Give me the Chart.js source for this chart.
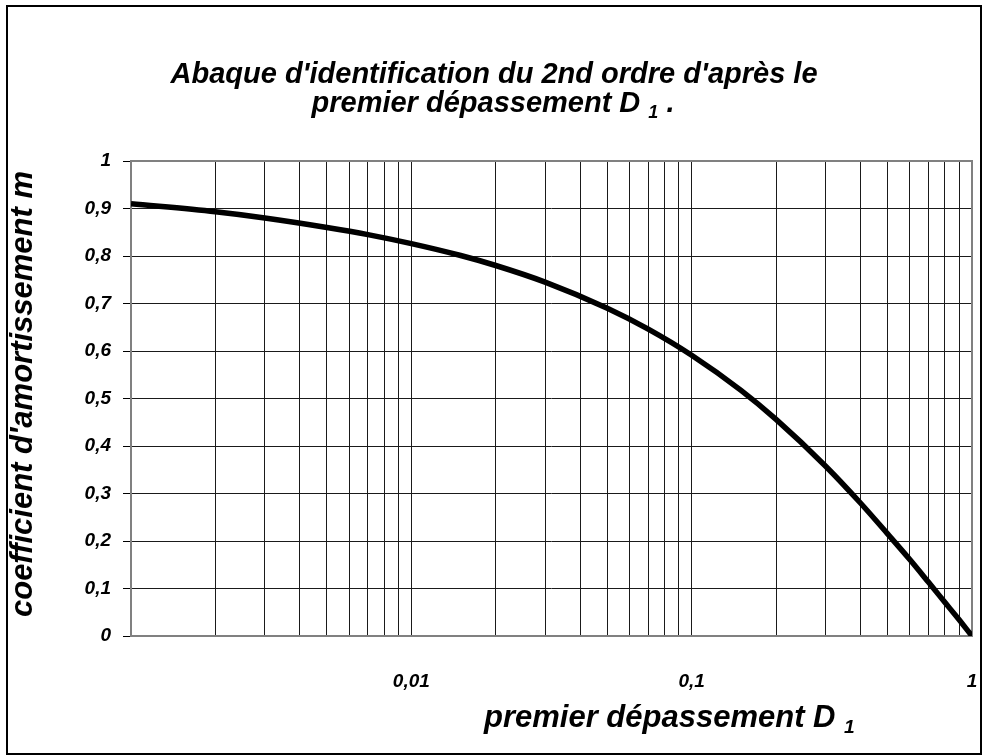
<!DOCTYPE html>
<html>
<head>
<meta charset="utf-8">
<script src="https://cdn.jsdelivr.net/npm/chart.js@4"></script>
<style>
  body { margin: 0; background: #fff; }
  #wrap { position: relative; width: 983px; height: 756px; }
  #frame {
    position: absolute; left: 6px; top: 5px; right: 1px; bottom: 1px;
    border: 2px solid #000; box-sizing: border-box; pointer-events: none;
  }
</style>
</head>
<body>
<div id="wrap">
  <canvas id="chart" width="983" height="756"></canvas>
  <div id="frame"></div>
</div>
<script>
// premier dépassement D1 (log axis) and coefficient d'amortissement m
const depassement = [0.001, 0.002, 0.003, 0.005, 0.007, 0.01, 0.015, 0.02, 0.03, 0.05,
  0.07, 0.1, 0.15, 0.2, 0.3, 0.4, 0.5, 0.6, 0.7, 0.8, 0.9, 1];
const amortissement = [0.910, 0.893, 0.880, 0.860, 0.845, 0.826, 0.801, 0.780, 0.745, 0.690,
  0.646, 0.591, 0.517, 0.456, 0.358, 0.280, 0.215, 0.161, 0.113, 0.071, 0.034, 0];

const xDecades = [0.001, 0.01, 0.1];
const xLabelValues = [0.01, 0.1, 1];
const yMin = 0, yMax = 1, yGridStep = 0.05, yLabelStep = 0.1;

const FONT = "'Liberation Sans', Arial, sans-serif";
const ctx = document.getElementById("chart");

const points = depassement.map((d, i) => ({ x: d, y: amortissement[i] }));

function frLabel(v) {
  return String(Math.round(v * 100) / 100).replace(".", ",");
}
function isLabelTick(v) {
  return Math.abs(v / yLabelStep - Math.round(v / yLabelStep)) < 1e-6;
}

// one line of text, with an optional subscript part; align "center" or "left"
function drawRich(c, parts, x0, cy, size, align) {
  const widths = parts.map(p => {
    c.font = "italic bold " + (p.sub ? size * 0.62 : size) + "px " + FONT;
    return c.measureText(p.t).width;
  });
  let x = align === "left" ? x0 : x0 - widths.reduce((a, b) => a + b, 0) / 2;
  parts.forEach((p, i) => {
    c.font = "italic bold " + (p.sub ? size * 0.62 : size) + "px " + FONT;
    c.fillText(p.t, x, cy + (p.sub ? size * 0.3 : 0));
    x += widths[i];
  });
}

const textPlugin = {
  id: "texts",
  beforeDatasetsDraw(chart) {
    const { ctx: c, chartArea: a } = chart;
    c.save();
    c.strokeStyle = "#808080";
    c.lineWidth = 2;
    c.strokeRect(a.left, a.top, a.right - a.left, a.bottom - a.top);
    c.restore();
  },
  afterDraw(chart) {
    const c = chart.ctx;
    c.save();
    c.fillStyle = "#000";
    c.textBaseline = "middle";
    drawRich(c, [{ t: "Abaque d'identification du 2nd ordre d'après le" }], 494, 75, 29);
    drawRich(c, [{ t: "premier dépassement D " }, { t: "1", sub: true }, { t: " ." }], 493, 104, 29);
    drawRich(c, [{ t: "premier dépassement D " }, { t: "1", sub: true }], 484, 718, 31, "left");
    c.translate(23, 394);
    c.rotate(-Math.PI / 2);
    drawRich(c, [{ t: "coefficient d'amortissement m" }], 0, 0, 31);
    c.restore();
  }
};

new Chart(ctx, {
  type: "line",
  data: {
    datasets: [
      {
        label: "m",
        data: points,
        borderColor: "#000",
        borderWidth: 5.5,
        pointRadius: 0,
        fill: false,
        cubicInterpolationMode: "monotone",
      },
    ],
  },
  options: {
    responsive: false,
    animation: false,
    layout: { padding: { top: 161, right: 11, left: 0, bottom: 0 } },
    plugins: { legend: { display: false }, title: { display: false }, tooltip: { enabled: false } },
    scales: {
      x: {
        type: "logarithmic",
        min: 0.001,
        max: 1,
        afterFit: (scale) => { scale.height = 120; },
        afterBuildTicks: (scale) => {
          const ticks = [];
          xDecades.forEach(d => {
            for (let k = 1; k <= 9; k++) ticks.push({ value: d * k });
          });
          ticks.push({ value: 1 });
          scale.ticks = ticks;
        },
        border: { display: false },
        grid: { color: "#1a1a1a", lineWidth: 1, tickLength: 32, tickColor: "rgba(0,0,0,0)" },
        ticks: {
          autoSkip: false,
          maxRotation: 0,
          padding: 2,
          color: "#000",
          font: { family: FONT, size: 19, style: "italic", weight: "bold" },
          callback: (value) => {
            const hit = xLabelValues.find(v => Math.abs(v - value) < v * 1e-6);
            return hit ? frLabel(hit) : "";
          },
        },
      },
      y: {
        min: yMin,
        max: yMax,
        afterFit: (scale) => { scale.width = 131; },
        border: { display: false },
        grid: {
          color: "#1a1a1a",
          lineWidth: 1,
          tickLength: 8,
          tickColor: (c) => (c.tick && isLabelTick(c.tick.value) ? "#000" : "rgba(0,0,0,0)"),
        },
        ticks: {
          stepSize: yGridStep,
          padding: 12,
          color: "#000",
          font: { family: FONT, size: 19, style: "italic", weight: "bold" },
          callback: (value) => (isLabelTick(value) ? frLabel(value) : ""),
        },
      },
    },
  },
  plugins: [textPlugin],
});
</script>
</body>
</html>
